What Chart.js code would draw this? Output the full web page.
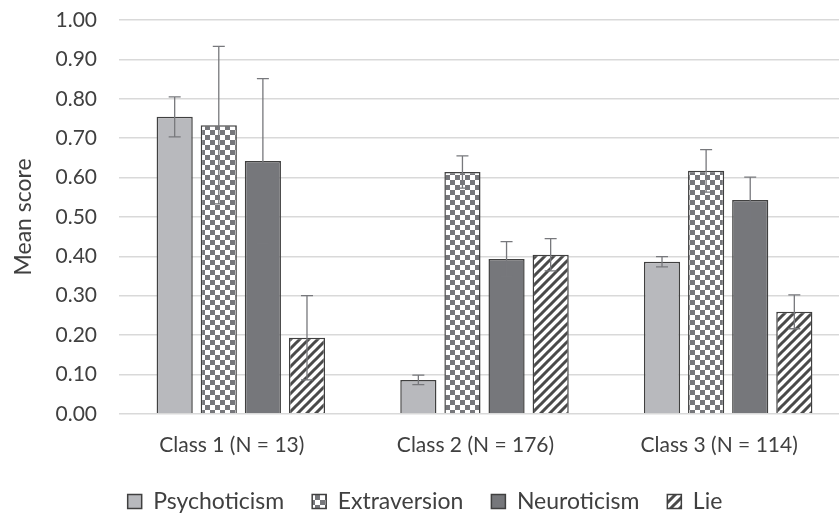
<!DOCTYPE html>
<html>
<head>
<meta charset="utf-8">
<script src="https://cdn.jsdelivr.net/npm/chart.js@4/dist/chart.umd.min.js"></script>
<style>
    html, body { margin: 0; padding: 0; background: #fff; overflow: hidden; }
    #wrap { position: relative; width: 850px; height: 513px; }
</style>
</head>
<body>
<div id="wrap"><canvas id="myChart"></canvas></div>
<script>
// values
const categories = ['Class 1 (N = 13)', 'Class 2 (N = 176)', 'Class 3 (N = 114)'];
const psychoticism = [0.754, 0.086, 0.386];
const psychoticismErr = [0.051, 0.012, 0.013];
const extraversion = [0.733, 0.614, 0.617];
const extraversionErr = [0.200, 0.041, 0.054];
const neuroticism = [0.642, 0.393, 0.543];
const neuroticismErr = [0.209, 0.044, 0.058];
const lie = [0.193, 0.404, 0.259];
const lieErr = [0.107, 0.041, 0.043];
const yTicks = [0, 0.1, 0.2, 0.3, 0.4, 0.5, 0.6, 0.7, 0.8, 0.9, 1.0];

const FONT = 'Lato, "Open Sans", sans-serif';
const TEXT = '#404040';

function checkerPattern()
{
    let c = document.createElement('canvas');
    c.width = 10; c.height = 10;
    let ctx = c.getContext('2d');
    ctx.fillStyle = '#ffffff';
    ctx.fillRect(0, 0, 10, 10);
    ctx.fillStyle = '#76777b';
    ctx.fillRect(0, 0, 5, 5);
    ctx.fillRect(5, 5, 5, 5);
    return ctx.createPattern(c, 'repeat');
}

function stripePattern()
{
    let s = 9;
    let c = document.createElement('canvas');
    c.width = s; c.height = s;
    let ctx = c.getContext('2d');
    ctx.fillStyle = '#ffffff';
    ctx.fillRect(0, 0, s, s);
    ctx.strokeStyle = '#4a4a4a';
    ctx.lineWidth = 3;
    ctx.beginPath();
    ctx.moveTo(-s, s); ctx.lineTo(s, -s);
    ctx.moveTo(0, s); ctx.lineTo(s, 0);
    ctx.moveTo(0, 2 * s); ctx.lineTo(2 * s, 0);
    ctx.stroke();
    return ctx.createPattern(c, 'repeat');
}

// draws the whiskers using the chart's own scales
const errorBars = {
    id: 'errorBars',
    afterDatasetsDraw(chart)
    {
        const ctx = chart.ctx;
        const yScale = chart.scales.y;
        ctx.save();
        ctx.strokeStyle = '#77787c';
        ctx.lineWidth = 1.3;
        chart.data.datasets.forEach((ds, i) => {
            const meta = chart.getDatasetMeta(i);
            meta.data.forEach((bar, j) => {
                const v = ds.data[j];
                const e = ds.errors[j];
                const top = yScale.getPixelForValue(v + e);
                const bot = yScale.getPixelForValue(v - e);
                const half = 6;
                ctx.beginPath();
                ctx.moveTo(bar.x, top); ctx.lineTo(bar.x, bot);
                ctx.moveTo(bar.x - half, top); ctx.lineTo(bar.x + half, top);
                ctx.moveTo(bar.x - half, bot); ctx.lineTo(bar.x + half, bot);
                ctx.stroke();
            });
        });
        ctx.restore();
    }
};

// legend keeps wide horizontal gaps but takes less room from the x axis
const LEGEND_SHRINK = 5;
const LEGEND_LIFT = 7;
const legendTweak = {
    id: 'legendTweak',
    afterInit(chart)
    {
        const legend = chart.legend;
        const fit = legend.fit;
        legend.fit = function() {
            fit.call(this);
            this.height -= LEGEND_SHRINK;
        };
    },
    afterLayout(chart)
    {
        const legend = chart.legend;
        legend.top -= LEGEND_LIFT;
        legend.bottom -= LEGEND_LIFT;
        legend.legendHitBoxes.forEach(h => { h.top -= LEGEND_LIFT; });
    }
};

const barStyle = {
    borderColor: '#404040',
    borderWidth: 1.5,
    categoryPercentage: 0.724,
    barPercentage: 0.82
};

let config = {
    type: 'bar',
    data: {
        labels: categories,
        datasets: [
            Object.assign({ label: 'Psychoticism', data: psychoticism, errors: psychoticismErr, backgroundColor: '#b8b9bd' }, barStyle),
            Object.assign({ label: 'Extraversion', data: extraversion, errors: extraversionErr, backgroundColor: checkerPattern() }, barStyle),
            Object.assign({ label: 'Neuroticism', data: neuroticism, errors: neuroticismErr, backgroundColor: '#76777b' }, barStyle),
            Object.assign({ label: 'Lie', data: lie, errors: lieErr, backgroundColor: stripePattern() }, barStyle)
        ]
    },
    options: {
        responsive: true,
        maintainAspectRatio: false,
        animation: false,
        layout: { padding: { top: 20, left: 0, right: 0, bottom: -12 } },
        scales: {
            x: {
                grid: { display: false },
                border: { display: false },
                ticks: { color: TEXT, font: { family: FONT, size: 21 }, padding: 11, labelOffset: -9 }
            },
            y: {
                min: 0,
                max: 1,
                afterBuildTicks: (scale) => { scale.ticks = yTicks.map(v => ({ value: v })); },
                afterFit: (scale) => {
                    scale.width = 119;
                    scale.paddingTop = 0;
                    scale.paddingBottom = 0;
                },
                grid: { color: '#d9d9d9', lineWidth: 1.5, drawTicks: false },
                border: { display: false },
                ticks: {
                    color: TEXT,
                    font: { family: FONT, size: 21 },
                    padding: 22,
                    callback: (v) => Number(v).toFixed(2)
                },
                title: {
                    display: true,
                    text: 'Mean score',
                    color: TEXT,
                    font: { family: FONT, size: 23 },
                    padding: { top: 10, bottom: 0 }
                }
            }
        },
        plugins: {
            tooltip: { enabled: false },
            legend: {
                position: 'bottom',
                labels: {
                    color: TEXT,
                    font: { family: FONT, size: 23 },
                    boxWidth: 14,
                    boxHeight: 14,
                    padding: 28
                }
            }
        }
    },
    plugins: [errorBars, legendTweak]
};

const chart = new Chart(document.getElementById('myChart'), config);
</script>
</body>
</html>
